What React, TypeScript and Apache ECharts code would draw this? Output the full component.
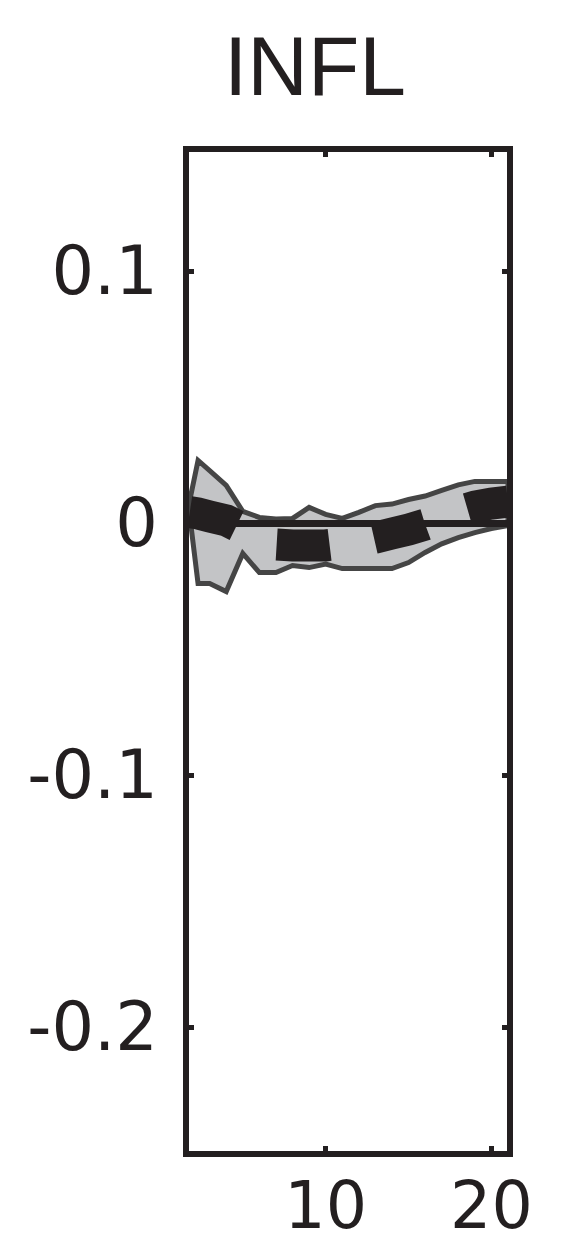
import React, { useEffect, useRef } from "react";
import * as echarts from "echarts";

// ---- data ----
const chartTitle = "INFL";
const horizon = [1.8, 2.3, 3, 4, 5, 6, 7, 8, 9, 10, 11, 12, 13, 14, 15, 16, 17, 18, 19, 20, 21];
const median = [0.0045, 0.004, 0.0028, 0.0012, -0.002, -0.0067, -0.0083, -0.0087, -0.0087, -0.0087, -0.0079, -0.0071, -0.0056, -0.004, -0.0024, -0.0004, 0.002, 0.0048, 0.0067, 0.0079, 0.0087];
const upperBand = [0.0091, 0.025, 0.021, 0.0151, 0.0048, 0.0024, 0.0018, 0.002, 0.0064, 0.0036, 0.002, 0.0044, 0.0071, 0.0077, 0.0095, 0.0109, 0.0131, 0.0153, 0.0167, 0.0167, 0.0167];
const lowerBand = [0.003, -0.0238, -0.0238, -0.027, -0.0119, -0.0195, -0.0195, -0.0167, -0.0175, -0.0161, -0.0179, -0.0179, -0.0179, -0.0179, -0.0155, -0.0115, -0.0081, -0.0056, -0.0036, -0.002, -0.0008];
const xTicks = [10, 20];
const yTicks = [-0.2, -0.1, 0, 0.1];
const xRange = [1.573, 21.12];
const yRange = [-0.2502, 0.1486];

const INK = "#231f20";
const TITLE_FONT = "Liberation Sans, Arial, Helvetica, sans-serif";
const TICK_FONT = "DejaVu Sans, Liberation Sans, sans-serif";

export default function App() {
  const ref = useRef<HTMLDivElement>(null);

  useEffect(() => {
    if (!ref.current) return;
    const chart = echarts.init(ref.current, undefined, { renderer: "svg" });

    const axisLineStyle = { color: INK, width: 6, cap: "square" as const };
    const tickStyle = { color: INK, width: 5 };

    const option: any = {
      animation: false,
      backgroundColor: "#ffffff",
      grid: { left: 186, right: 63, top: 149, bottom: 98, containLabel: false },
      graphic: [
        {
          type: "text",
          x: 315,
          y: 66,
          style: {
            text: chartTitle,
            font: `84px ${TITLE_FONT}`,
            fill: INK,
            textAlign: "center",
            textVerticalAlign: "middle",
          },
        },
      ],
      xAxis: [
        {
          type: "value",
          min: xRange[0],
          max: xRange[1],
          position: "bottom",
          z: 10,
          axisLine: { show: true, onZero: false, lineStyle: axisLineStyle },
          axisTick: { show: true, inside: true, length: 8, customValues: xTicks, lineStyle: tickStyle },
          axisLabel: {
            show: true,
            customValues: xTicks,
            margin: 51,
            verticalAlign: "middle",
            fontSize: 65,
            fontFamily: TICK_FONT,
            color: INK,
          },
          splitLine: { show: false },
        },
        {
          type: "value",
          min: xRange[0],
          max: xRange[1],
          position: "top",
          z: 10,
          axisLine: { show: true, onZero: false, lineStyle: axisLineStyle },
          axisTick: { show: true, inside: true, length: 8, customValues: xTicks, lineStyle: tickStyle },
          axisLabel: { show: false },
          splitLine: { show: false },
        },
      ],
      yAxis: [
        {
          type: "value",
          min: yRange[0],
          max: yRange[1],
          position: "left",
          z: 10,
          axisLine: { show: true, onZero: false, lineStyle: axisLineStyle },
          axisTick: { show: true, inside: true, length: 8, customValues: yTicks, lineStyle: tickStyle },
          axisLabel: {
            show: true,
            customValues: yTicks,
            margin: 28,
            padding: [0, 0, 6, 0],
            fontSize: 67,
            fontFamily: TICK_FONT,
            color: INK,
          },
          splitLine: { show: false },
        },
        {
          type: "value",
          min: yRange[0],
          max: yRange[1],
          position: "right",
          z: 10,
          axisLine: { show: true, onZero: false, lineStyle: axisLineStyle },
          axisTick: { show: true, inside: true, length: 8, customValues: yTicks, lineStyle: tickStyle },
          axisLabel: { show: false },
          splitLine: { show: false },
        },
      ],
      series: [
        {
          type: "custom",
          coordinateSystem: "cartesian2d",
          clip: true,
          silent: true,
          z: 2,
          data: [[horizon[0], median[0]]],
          renderItem: (_params: any, api: any) => {
            const pts: number[][] = [];
            for (let i = 0; i < horizon.length; i++) pts.push(api.coord([horizon[i], upperBand[i]]));
            for (let i = horizon.length - 1; i >= 0; i--) pts.push(api.coord([horizon[i], lowerBand[i]]));
            return {
              type: "polygon",
              shape: { points: pts },
              style: { fill: "#c3c4c6", stroke: "#454545", lineWidth: 5, lineJoin: "miter" },
            };
          },
        },
        {
          type: "line",
          silent: true,
          z: 3,
          symbol: "none",
          data: [],
          markLine: {
            silent: true,
            symbol: "none",
            label: { show: false },
            lineStyle: { color: INK, width: 7, type: "solid" },
            data: [{ yAxis: 0 }],
          },
        },
        {
          type: "line",
          silent: true,
          z: 4,
          clip: true,
          symbol: "none",
          showSymbol: false,
          data: horizon.map((h, i) => [h, median[i]]),
          lineStyle: { color: INK, width: 32, type: [53, 45], dashOffset: 4, cap: "butt", join: "miter" },
        },
      ],
    };

    chart.setOption(option);
    return () => chart.dispose();
  }, []);

  return (
    <div
      ref={ref}
      style={{ position: "absolute", left: 0, top: 0, width: 573, height: 1252 }}
    />
  );
}
